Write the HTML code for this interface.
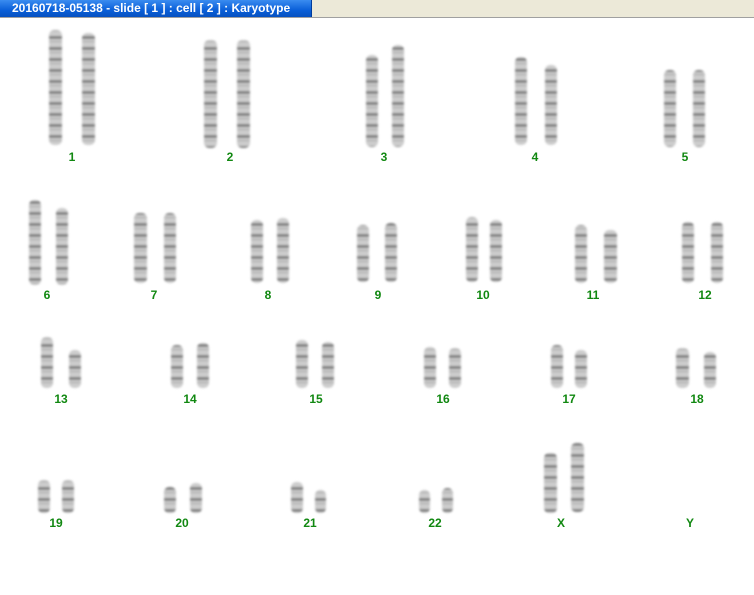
<!DOCTYPE html>
<html><head><meta charset="utf-8"><style>
html,body{margin:0;padding:0;background:#fff;width:754px;height:595px;overflow:hidden;font-family:"Liberation Sans",sans-serif}
#bar{position:absolute;left:0;top:0;width:754px;height:17px;background:#ece9d8;border-bottom:1px solid #a0a0a0}
#title{position:absolute;left:0;top:0;width:312px;height:17px;background:linear-gradient(#3a8cf0,#0a5fd8 60%,#0650c0);color:#fff;font-weight:bold;font-size:12px;line-height:17px;padding-left:12px;box-sizing:border-box;border-right:1px solid #003c9c}
svg{position:absolute;left:0;top:0}
text{font-family:"Liberation Sans",sans-serif;font-weight:bold;font-size:12px;fill:#118811;text-anchor:middle}
</style></head><body>
<div id="bar"><div id="title">20160718-05138 - slide [ 1 ] : cell [ 2 ] : Karyotype</div></div>
<svg width="754" height="595" viewBox="0 0 754 595">
<defs>
<pattern id="b" width="12" height="11" patternUnits="userSpaceOnUse">
<rect width="12" height="11" fill="#c4c4c4"/>
<rect y="3" width="12" height="3" fill="#6a6a6a"/>
<rect y="8" width="12" height="1" fill="#999"/>
</pattern>
<filter id="f"><feGaussianBlur stdDeviation="1"/></filter>
</defs>
<g fill="url(#b)" filter="url(#f)" opacity="0.85">
<rect x="49" y="30" width="13" height="115" rx="5"/>
<rect x="82" y="33" width="13" height="112" rx="5"/>
<rect x="204" y="40" width="13" height="108" rx="5"/>
<rect x="237" y="40" width="13" height="108" rx="5"/>
<rect x="366" y="55" width="12" height="92" rx="5"/>
<rect x="392" y="45" width="12" height="102" rx="5"/>
<rect x="515" y="57" width="12" height="88" rx="5"/>
<rect x="545" y="65" width="12" height="80" rx="5"/>
<rect x="664" y="70" width="12" height="77" rx="5"/>
<rect x="693" y="70" width="12" height="77" rx="5"/>
<rect x="29" y="200" width="12" height="85" rx="5"/>
<rect x="56" y="208" width="12" height="77" rx="5"/>
<rect x="134" y="213" width="13" height="70" rx="5"/>
<rect x="164" y="213" width="12" height="70" rx="5"/>
<rect x="251" y="220" width="12" height="63" rx="5"/>
<rect x="277" y="218" width="12" height="65" rx="5"/>
<rect x="357" y="225" width="12" height="57" rx="5"/>
<rect x="385" y="223" width="12" height="59" rx="5"/>
<rect x="466" y="217" width="12" height="65" rx="5"/>
<rect x="490" y="220" width="12" height="62" rx="5"/>
<rect x="575" y="225" width="12" height="58" rx="5"/>
<rect x="604" y="230" width="13" height="53" rx="5"/>
<rect x="682" y="222" width="12" height="61" rx="5"/>
<rect x="711" y="222" width="12" height="61" rx="5"/>
<rect x="41" y="337" width="12" height="51" rx="5"/>
<rect x="69" y="350" width="12" height="38" rx="5"/>
<rect x="171" y="345" width="12" height="43" rx="5"/>
<rect x="197" y="343" width="12" height="45" rx="5"/>
<rect x="296" y="340" width="12" height="48" rx="5"/>
<rect x="322" y="342" width="12" height="46" rx="5"/>
<rect x="424" y="347" width="12" height="41" rx="5"/>
<rect x="449" y="348" width="12" height="40" rx="5"/>
<rect x="551" y="345" width="12" height="43" rx="5"/>
<rect x="575" y="350" width="12" height="38" rx="5"/>
<rect x="676" y="348" width="13" height="40" rx="5"/>
<rect x="704" y="352" width="12" height="36" rx="5"/>
<rect x="38" y="480" width="12" height="33" rx="5"/>
<rect x="62" y="480" width="12" height="33" rx="5"/>
<rect x="164" y="487" width="12" height="26" rx="5"/>
<rect x="190" y="483" width="12" height="30" rx="5"/>
<rect x="291" y="482" width="12" height="31" rx="5"/>
<rect x="315" y="490" width="11" height="23" rx="5"/>
<rect x="419" y="490" width="11" height="23" rx="5"/>
<rect x="442" y="488" width="11" height="25" rx="5"/>
<rect x="544" y="453" width="13" height="60" rx="5"/>
<rect x="571" y="443" width="13" height="69" rx="5"/>
</g>
<text x="72" y="161">1</text><text x="230" y="161">2</text><text x="384" y="161">3</text><text x="535" y="161">4</text><text x="685" y="161">5</text>
<text x="47" y="299">6</text><text x="154" y="299">7</text><text x="268" y="299">8</text><text x="378" y="299">9</text><text x="483" y="299">10</text><text x="593" y="299">11</text><text x="705" y="299">12</text>
<text x="61" y="403">13</text><text x="190" y="403">14</text><text x="316" y="403">15</text><text x="443" y="403">16</text><text x="569" y="403">17</text><text x="697" y="403">18</text>
<text x="56" y="527">19</text><text x="182" y="527">20</text><text x="310" y="527">21</text><text x="435" y="527">22</text><text x="561" y="527">X</text><text x="690" y="527">Y</text>
</svg>
</body></html>
